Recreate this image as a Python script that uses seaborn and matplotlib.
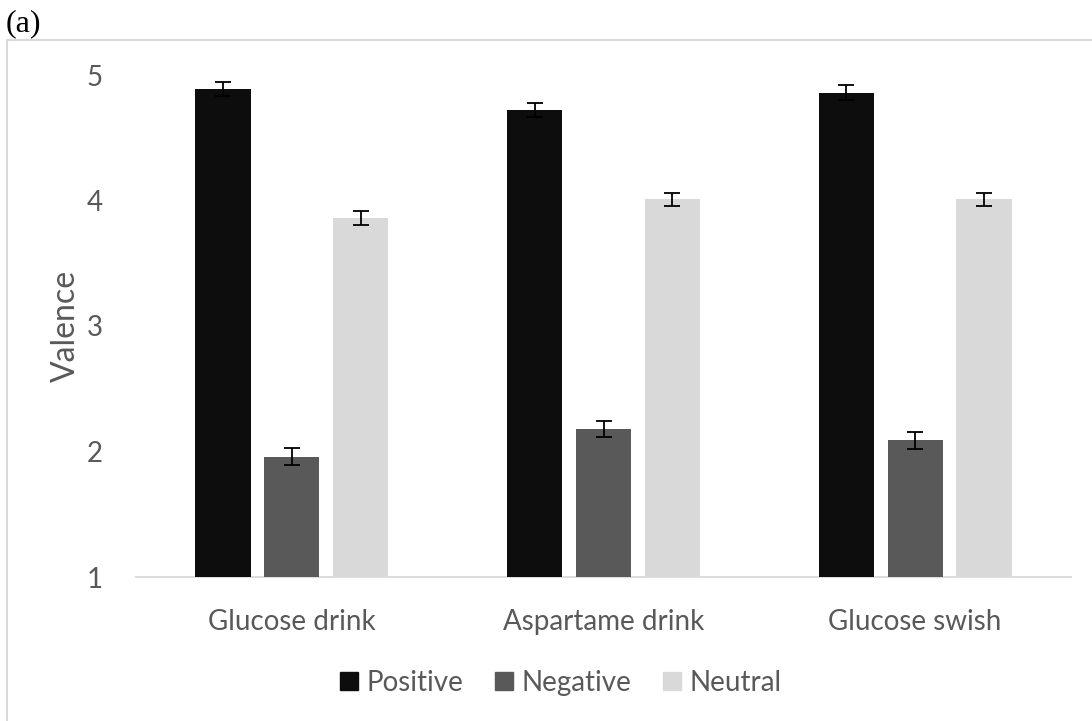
import pandas as pd
import numpy as np
import matplotlib.pyplot as plt
import seaborn as sns
from matplotlib.patches import Rectangle

# Values
conditions = ['Glucose drink', 'Aspartame drink', 'Glucose swish']
valences = ['Positive', 'Negative', 'Neutral']
positive = [4.89, 4.72, 4.86]
negative = [1.96, 2.18, 2.09]
neutral = [3.86, 4.01, 4.01]
positive_err = [0.057, 0.058, 0.058]
negative_err = [0.066, 0.066, 0.068]
neutral_err = [0.053, 0.053, 0.053]

colors = ['#0d0d0d', '#595959', '#d9d9d9']
text_color = '#595959'

df = pd.DataFrame({
    'condition': conditions * 3,
    'valence': [v for v in valences for _ in conditions],
    'score': positive + negative + neutral,
    'err': positive_err + negative_err + neutral_err,
})

sns.set_style('white')
plt.rcParams['font.family'] = ['Lato', 'DejaVu Sans']

fig = plt.figure(figsize=(10.92, 7.21), dpi=100)
ax = fig.add_axes([136 / 1092, 1 - 577 / 721, 935 / 1092, 502 / 721])

sns.barplot(data=df, x='condition', y='score', hue='valence', hue_order=valences,
            palette=colors, width=0.663, gap=0.2, errorbar=None, legend=False, ax=ax,
            saturation=1, linewidth=0)

# error bars on top of each bar
for cont, lvl in zip(ax.containers, valences):
    sub = df[df['valence'] == lvl]
    xs = [b.get_x() + b.get_width() / 2 for b in cont]
    ax.errorbar(xs, sub['score'].values, yerr=sub['err'].values, fmt='none',
                ecolor='black', elinewidth=1.3, capsize=6, capthick=1.3, clip_on=False, zorder=5)

ax.set_xlim(-0.5, 2.5)
ax.set_ylim(1, 5)
ax.set_yticks([1, 2, 3, 4, 5])
ax.set_xlabel('')
ax.set_ylabel('Valence', fontsize=23, color=text_color, labelpad=4)
ax.tick_params(axis='both', length=0, labelsize=20, labelcolor=text_color)
ax.tick_params(axis='x', pad=23)
ax.tick_params(axis='y', pad=24)
for side in ['top', 'right', 'left']:
    ax.spines[side].set_visible(False)
ax.spines['bottom'].set_color('#d9d9d9')
ax.spines['bottom'].set_linewidth(1.3)
ax.spines['bottom'].set_zorder(0)

handles = [Rectangle((0, 0), 1, 1, color=c) for c in colors]
leg = fig.legend(handles, valences, loc='center', bbox_to_anchor=(561 / 1092, 1 - 683 / 721),
                 ncol=3, frameon=False, fontsize=20, handlelength=0.62, handleheight=0.62,
                 handletextpad=0.32, columnspacing=1.15)
for t in leg.get_texts():
    t.set_color(text_color)

# chart frame (left and top edges only visible)
fig.add_artist(Rectangle((7 / 1092, -0.1), 1.2, 1.1 - 40 / 721, transform=fig.transFigure,
                         fill=False, edgecolor='#d9d9d9', linewidth=1.5))
fig.text(6 / 1092, 1 - 31 / 721, '(a)', family='Liberation Serif', fontsize=23,
         va='baseline', ha='left', color='black')

fig.savefig('out.png', dpi=100)
